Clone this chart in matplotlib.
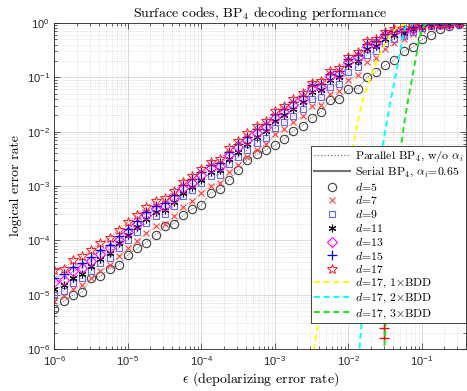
import matplotlib
matplotlib.use('Agg')
import matplotlib.pyplot as plt
from matplotlib.lines import Line2D
from matplotlib.font_manager import FontProperties

plt.rcParams['font.family'] = ['Liberation Sans', 'DejaVu Sans']
plt.rcParams['axes.unicode_minus'] = False

# depolarizing error rate grid
eps = [1.00e-6, 1.33e-6, 1.78e-6, 2.37e-6, 3.16e-6, 4.22e-6, 5.62e-6, 7.50e-6,
       1.00e-5, 1.33e-5, 1.78e-5, 2.37e-5, 3.16e-5, 4.22e-5, 5.62e-5, 7.50e-5,
       1.00e-4, 1.33e-4, 1.78e-4, 2.37e-4, 3.16e-4, 4.22e-4, 5.62e-4, 7.50e-4,
       1.00e-3, 1.33e-3, 1.78e-3, 2.37e-3, 3.16e-3, 4.22e-3, 5.62e-3, 7.50e-3,
       1.00e-2, 1.33e-2, 1.78e-2, 2.37e-2, 3.16e-2, 4.22e-2, 5.62e-2, 7.50e-2,
       1.00e-1, 1.33e-1, 1.78e-1, 2.37e-1, 3.16e-1]

ler_d5 = [5.50e-6, 7.59e-6, 9.77e-6, 1.10e-5, 2.00e-5, 2.19e-5, 3.02e-5, 3.55e-5,
          5.37e-5, 7.08e-5, 9.12e-5, 1.26e-4, 1.82e-4, 2.04e-4, 2.88e-4, 3.80e-4,
          4.47e-4, 7.41e-4, 8.71e-4, 1.29e-3, 1.95e-3, 3.02e-3, 3.80e-3, 4.57e-3,
          5.62e-3, 7.24e-3, 1.05e-2, 1.29e-2, 1.82e-2, 2.34e-2, 3.80e-2, 4.07e-2,
          6.03e-2, 6.17e-2, 0.100, 0.126, 0.166, 0.209, 0.302, 0.355,
          0.501, 0.603, 0.776, 0.891, 0.955]
ler_d7 = [7.76e-6, 9.33e-6, 1.26e-5, 1.51e-5, 2.00e-5, 2.75e-5, 3.47e-5, 5.13e-5,
          7.08e-5, 9.77e-5, 1.38e-4, 1.82e-4, 2.00e-4, 2.82e-4, 4.17e-4, 5.37e-4,
          7.41e-4, 1.02e-3, 1.12e-3, 1.78e-3, 2.45e-3, 3.39e-3, 4.68e-3, 5.89e-3,
          8.91e-3, 1.12e-2, 1.48e-2, 1.91e-2, 2.95e-2, 3.16e-2, 4.90e-2, 5.50e-2,
          8.91e-2, 0.112, 0.191, 0.224, 0.339, 0.427, 0.501, 0.617,
          0.741, 0.832, 0.891, 0.933, 0.955]
ler_d9 = [1.00e-5, 1.17e-5, 1.66e-5, 2.00e-5, 2.69e-5, 3.80e-5, 4.79e-5, 7.24e-5,
          1.02e-4, 1.45e-4, 2.09e-4, 2.75e-4, 3.09e-4, 4.37e-4, 6.46e-4, 8.32e-4,
          1.12e-3, 1.51e-3, 1.62e-3, 2.51e-3, 3.39e-3, 4.68e-3, 6.17e-3, 7.76e-3,
          1.17e-2, 1.48e-2, 1.95e-2, 2.57e-2, 3.98e-2, 4.27e-2, 6.76e-2, 7.59e-2,
          0.126, 0.158, 0.263, 0.302, 0.427, 0.513, 0.575, 0.692,
          0.794, 0.871, 0.912, 0.955, 0.977]
ler_d11 = [1.26e-5, 1.48e-5, 2.04e-5, 2.45e-5, 3.31e-5, 4.57e-5, 5.89e-5, 8.91e-5,
           1.26e-4, 1.78e-4, 2.51e-4, 3.31e-4, 3.63e-4, 5.01e-4, 7.59e-4, 9.55e-4,
           1.29e-3, 1.78e-3, 1.95e-3, 3.09e-3, 4.27e-3, 5.89e-3, 8.13e-3, 1.02e-2,
           1.55e-2, 2.00e-2, 2.63e-2, 3.47e-2, 5.37e-2, 5.89e-2, 9.12e-2, 0.102,
           0.170, 0.204, 0.331, 0.372, 0.513, 0.603, 0.661, 0.759,
           0.851, 0.912, 0.955, 0.977, 0.989]
ler_d13 = [1.70e-5, 1.86e-5, 2.69e-5, 3.16e-5, 4.17e-5, 5.62e-5, 7.08e-5, 1.02e-4,
           1.41e-4, 2.00e-4, 2.88e-4, 3.80e-4, 4.27e-4, 6.03e-4, 9.12e-4, 1.15e-3,
           1.58e-3, 2.19e-3, 2.34e-3, 3.72e-3, 5.13e-3, 7.08e-3, 9.55e-3, 1.20e-2,
           1.82e-2, 2.34e-2, 3.09e-2, 4.07e-2, 6.31e-2, 6.76e-2, 0.105, 0.117,
           0.195, 0.234, 0.380, 0.427, 0.589, 0.676, 0.724, 0.813,
           0.912, 0.944, 0.966, 0.977, 0.989]
ler_d15 = [2.04e-5, 2.40e-5, 3.24e-5, 3.80e-5, 4.90e-5, 6.61e-5, 8.32e-5, 1.20e-4,
           1.62e-4, 2.29e-4, 3.31e-4, 4.37e-4, 4.90e-4, 6.92e-4, 1.05e-3, 1.32e-3,
           1.82e-3, 2.45e-3, 2.69e-3, 4.27e-3, 5.89e-3, 8.13e-3, 1.10e-2, 1.38e-2,
           2.09e-2, 2.63e-2, 3.55e-2, 4.57e-2, 7.08e-2, 7.59e-2, 0.117, 0.132,
           0.214, 0.263, 0.417, 0.468, 0.631, 0.724, 0.759, 0.851,
           0.912, 0.955, 0.977, 0.990, 1.000]
ler_d17 = [2.82e-5, 2.95e-5, 4.37e-5, 5.13e-5, 6.61e-5, 8.91e-5, 1.10e-4, 1.58e-4,
           2.14e-4, 2.95e-4, 4.17e-4, 5.37e-4, 5.89e-4, 8.13e-4, 1.20e-3, 1.51e-3,
           2.04e-3, 2.82e-3, 3.09e-3, 4.90e-3, 6.76e-3, 9.33e-3, 1.26e-2, 1.58e-2,
           2.40e-2, 3.02e-2, 3.98e-2, 5.13e-2, 7.94e-2, 8.51e-2, 0.132, 0.148,
           0.240, 0.288, 0.457, 0.501, 0.676, 0.759, 0.794, 0.871,
           0.933, 0.955, 0.977, 0.990, 1.000]

# Serial BP4 (d=17) points
serial_eps = [3.07e-2, 3.07e-2, 3.07e-2]
serial_ler = [1.2e-5, 2.4e-6, 1.6e-6]

# BDD reference curves for d=17
bdd1_eps = [3.16e-3, 3.39e-3, 3.80e-3, 5.01e-3, 6.31e-3, 7.94e-3, 1.00e-2, 1.14e-2, 1.33e-2,
            1.58e-2, 2.00e-2, 2.51e-2, 3.16e-2, 3.72e-2, 4.47e-2, 5.62e-2, 7.94e-2, 0.398]
bdd1_ler = [6.3e-7, 1.0e-6, 2.5e-6, 1.8e-5, 9.1e-5, 4.7e-4, 2.1e-3, 4.9e-3, 1.5e-2,
            4.0e-2, 0.10, 0.22, 0.42, 0.60, 0.81, 0.93, 0.99, 1.0]
bdd2_eps = [1.35e-2, 1.41e-2, 1.51e-2, 1.74e-2, 2.00e-2, 2.34e-2, 2.91e-2, 3.24e-2, 3.72e-2,
            4.27e-2, 4.79e-2, 5.25e-2, 5.62e-2, 6.03e-2, 6.61e-2, 7.94e-2, 0.398]
bdd2_ler = [4.5e-7, 1.0e-6, 3.0e-6, 2.2e-5, 1.26e-4, 7.6e-4, 5.2e-3, 1.26e-2, 3.55e-2,
            8.9e-2, 0.20, 0.40, 0.66, 0.87, 0.955, 1.0, 1.0]
bdd3_eps = [2.99e-2, 3.07e-2, 3.24e-2, 3.55e-2, 3.98e-2, 4.57e-2, 5.18e-2, 5.75e-2, 6.61e-2,
            7.59e-2, 8.51e-2, 9.33e-2, 0.100, 0.110, 0.126, 0.398]
bdd3_ler = [5.0e-7, 1.0e-6, 3.5e-6, 2.5e-5, 2.0e-4, 1.26e-3, 5.0e-3, 1.45e-2, 4.5e-2,
            0.12, 0.28, 0.54, 0.79, 0.93, 0.98, 1.0]

labels = [r"Parallel BP$_4$, w/o $\alpha_i$",
          r"Serial BP$_4$, $\alpha_i$=0.65",
          r"$d$=5", r"$d$=7", r"$d$=9", r"$d$=11",
          r"$d$=13", r"$d$=15", r"$d$=17",
          r"$d$=17, 1$\times$BDD", r"$d$=17, 2$\times$BDD",
          r"$d$=17, 3$\times$BDD"]

series = [ler_d5, ler_d7, ler_d9, ler_d11, ler_d13, ler_d15, ler_d17]
styles = [dict(marker='o', color=(0.25, 0.25, 0.25), mfc='none', ms=6, mew=0.8),
          dict(marker='x', color=(1.0, 0.25, 0.25), ms=4.8, mew=0.8),
          dict(marker='s', color=(0.4, 0.4, 1.0), mfc='none', ms=4.6, mew=0.8),
          dict(marker=(6, 2, 0), color=(0.05, 0.05, 0.05), ms=5.5, mew=0.8),
          dict(marker='D', color=(1.0, 0.0, 1.0), mfc='none', ms=4.6, mew=0.8),
          dict(marker='+', color=(0.0, 0.0, 1.0), ms=6.5, mew=0.9),
          dict(marker='*', color=(1.0, 0.1, 0.1), mfc='none', ms=7.2, mew=0.7)]

fig = plt.figure(figsize=(4.67, 3.91), dpi=100)
ax = fig.add_axes([0.1167, 0.1074, 0.8812, 0.8338])
ax.set_xscale('log')
ax.set_yscale('log')

for vals, st in zip(series, styles):
    ax.plot(eps, vals, ls=':', lw=0.6, **st)

ax.plot(serial_eps, serial_ler, color='red', lw=1.0, marker='+', ms=7, mew=0.9)

ax.plot(bdd1_eps, bdd1_ler, color=(1.0, 1.0, 0.0), ls=(0, (3, 2)), lw=1.4)
ax.plot(bdd2_eps, bdd2_ler, color=(0.0, 1.0, 1.0), ls=(0, (3, 2)), lw=1.4)
ax.plot(bdd3_eps, bdd3_ler, color=(0.1, 0.9, 0.1), ls=(0, (3, 2)), lw=1.4)

ax.set_xlim(1e-6, 0.398)
ax.set_ylim(1e-6, 1.0)
ax.set_xticks([1e-6, 1e-5, 1e-4, 1e-3, 1e-2, 1e-1])
ax.set_yticks([1e-6, 1e-5, 1e-4, 1e-3, 1e-2, 1e-1, 1])

ax.grid(True, which='major', color=(0.15, 0.15, 0.15), alpha=0.18, lw=0.6)
ax.grid(True, which='minor', color=(0.15, 0.15, 0.15), alpha=0.22, lw=0.5, ls=':')
ax.tick_params(which='both', direction='in', top=True, right=True, colors=(0.15, 0.15, 0.15))
ax.tick_params(which='major', length=4, width=0.5, labelsize=8)
ax.tick_params(which='minor', length=2, width=0.5)
for sp in ax.spines.values():
    sp.set_color((0.15, 0.15, 0.15))
    sp.set_linewidth(0.6)

serif = dict(family='cmr10', math_fontfamily='cm')
ax.set_title(r"Surface codes, BP$_4$ decoding performance", fontsize=10, pad=4, **serif)
ax.set_xlabel(r"$\epsilon$ (depolarizing error rate)", fontsize=10, labelpad=2, **serif)
ax.set_ylabel(r"logical error rate", fontsize=10, labelpad=3, **serif)

handles = [Line2D([], [], color='0.45', ls=':', lw=0.9),
           Line2D([], [], color='0.45', lw=1.5)]
for st in styles:
    handles.append(Line2D([], [], ls='none', **st))
handles += [Line2D([], [], color=(1.0, 1.0, 0.0), ls=(0, (3, 2)), lw=1.4),
            Line2D([], [], color=(0.0, 1.0, 1.0), ls=(0, (3, 2)), lw=1.4),
            Line2D([], [], color=(0.1, 0.9, 0.1), ls=(0, (3, 2)), lw=1.4)]

leg = ax.legend(handles, labels, loc='lower right', bbox_to_anchor=(1.0, 0.08),
                borderaxespad=0,
                prop=FontProperties(family='cmr10', size=8.5, math_fontfamily='cm'),
                handlelength=3.1, handletextpad=0.4, labelspacing=0.15, borderpad=0.2,
                fancybox=False, framealpha=1, edgecolor=(0.15, 0.15, 0.15))
leg.get_frame().set_linewidth(0.6)

fig.savefig('out.png', dpi=100)
